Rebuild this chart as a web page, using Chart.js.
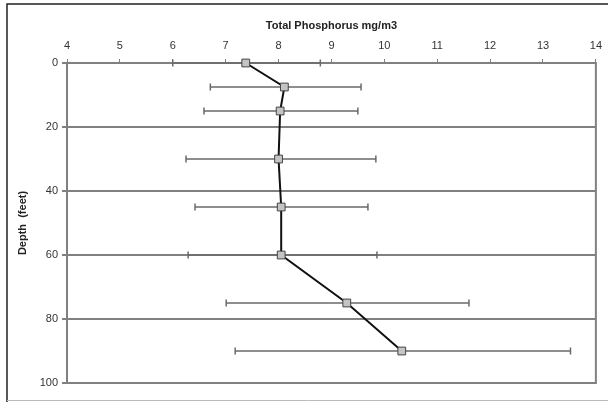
<!DOCTYPE html>
<html>
<head>
<meta charset="utf-8">
<script src="https://cdn.jsdelivr.net/npm/chart.js@4"></script>
<style>
  body { margin: 0; background: #fff; }
  #wrap { width: 608px; height: 402px; position: relative; }
</style>
</head>
<body>
<div id="wrap"><canvas id="tpChart"></canvas></div>
<script>
// depth profile of total phosphorus
const depths = [0, 7.5, 15, 30, 45, 60, 75, 90];
const phosphorus = [7.38, 8.11, 8.03, 8.0, 8.05, 8.05, 9.29, 10.33];
const errLow = [6.0, 6.71, 6.59, 6.25, 6.42, 6.29, 7.01, 7.18];
const errHigh = [8.79, 9.56, 9.50, 9.84, 9.69, 9.86, 11.6, 13.52];
const xTicks = [4, 5, 6, 7, 8, 9, 10, 11, 12, 13, 14];
const yTicks = [0, 20, 40, 60, 80, 100];

const points = depths.map((d, i) => ({ x: phosphorus[i], y: d }));

// horizontal error bars + frames
const errorBars = {
  id: "errorBars",
  beforeDraw(chart) {
    const ctx = chart.ctx;
    ctx.save();
    ctx.fillStyle = "#fff";
    ctx.fillRect(0, 0, chart.width, chart.height);
    ctx.strokeStyle = "#222";
    ctx.lineWidth = 1.5;
    ctx.beginPath();
    ctx.moveTo(7, 402); ctx.lineTo(7, 4); ctx.lineTo(608, 4);
    ctx.stroke();
    ctx.strokeStyle = "#bbb";
    ctx.lineWidth = 1;
    ctx.beginPath();
    ctx.moveTo(7, 400.5); ctx.lineTo(608, 400.5);
    ctx.stroke();
    ctx.restore();
  },
  beforeDatasetsDraw(chart) {
    const ctx = chart.ctx;
    const xs = chart.scales.x, ys = chart.scales.y;
    const a = chart.chartArea;
    ctx.save();
    ctx.strokeStyle = "#808080";
    ctx.lineWidth = 2;
    ctx.strokeRect(a.left, a.top, a.right - a.left, a.bottom - a.top);
    ctx.strokeStyle = "#6a6a6a";
    ctx.lineWidth = 1.5;
    for (let i = 0; i < depths.length; i++) {
      const y = ys.getPixelForValue(depths[i]);
      const x1 = xs.getPixelForValue(errLow[i]);
      const x2 = xs.getPixelForValue(errHigh[i]);
      ctx.beginPath();
      ctx.moveTo(x1, y); ctx.lineTo(x2, y);
      ctx.moveTo(x1, y - 3.5); ctx.lineTo(x1, y + 3.5);
      ctx.moveTo(x2, y - 3.5); ctx.lineTo(x2, y + 3.5);
      ctx.stroke();
    }
    ctx.restore();
  }
};

Chart.defaults.font.family = "'Liberation Sans', Arial, sans-serif";
Chart.defaults.font.size = 11;
Chart.defaults.color = "#333";

new Chart(document.getElementById("tpChart"), {
  type: "scatter",
  data: {
    datasets: [{
      data: points,
      showLine: true,
      clip: false,
      borderColor: "#111",
      borderWidth: 2,
      pointStyle: "rect",
      pointRadius: 5.5,
      pointBackgroundColor: "#c4c4c4",
      pointBorderColor: "#444",
      pointBorderWidth: 1
    }]
  },
  options: {
    responsive: true,
    maintainAspectRatio: false,
    animation: false,
    layout: { padding: { left: 0, top: 0, right: 10, bottom: 19 } },
    plugins: { legend: { display: false }, tooltip: { enabled: false } },
    scales: {
      x: {
        type: "linear",
        position: "top",
        min: xTicks[0],
        max: xTicks[xTicks.length - 1],
        afterBuildTicks: s => { s.ticks = xTicks.map(v => ({ value: v })); },
        afterFit: s => { s.height = 63; },
        title: {
          display: true,
          text: "Total Phosphorus mg/m3",
          font: { weight: "bold", size: 11 },
          color: "#222",
          padding: { top: 19, bottom: 0 }
        },
        ticks: { padding: 6, color: "#333" },
        grid: { drawOnChartArea: false, drawTicks: true, tickLength: 4, color: "#808080", lineWidth: 1 },
        border: { color: "#808080", width: 2 }
      },
      y: {
        type: "linear",
        reverse: true,
        min: yTicks[0],
        max: yTicks[yTicks.length - 1],
        afterBuildTicks: s => { s.ticks = yTicks.map(v => ({ value: v })); },
        afterFit: s => { s.width = 67; },
        title: {
          display: true,
          text: "Depth  (feet)",
          font: { weight: "bold", size: 11 },
          color: "#222",
          padding: { top: 16, bottom: 0 }
        },
        ticks: { padding: 4, color: "#333" },
        grid: { color: "#808080", lineWidth: 2, drawTicks: true, tickLength: 5 },
        border: { color: "#808080", width: 2 }
      }
    }
  },
  plugins: [errorBars]
});
</script>
</body>
</html>
